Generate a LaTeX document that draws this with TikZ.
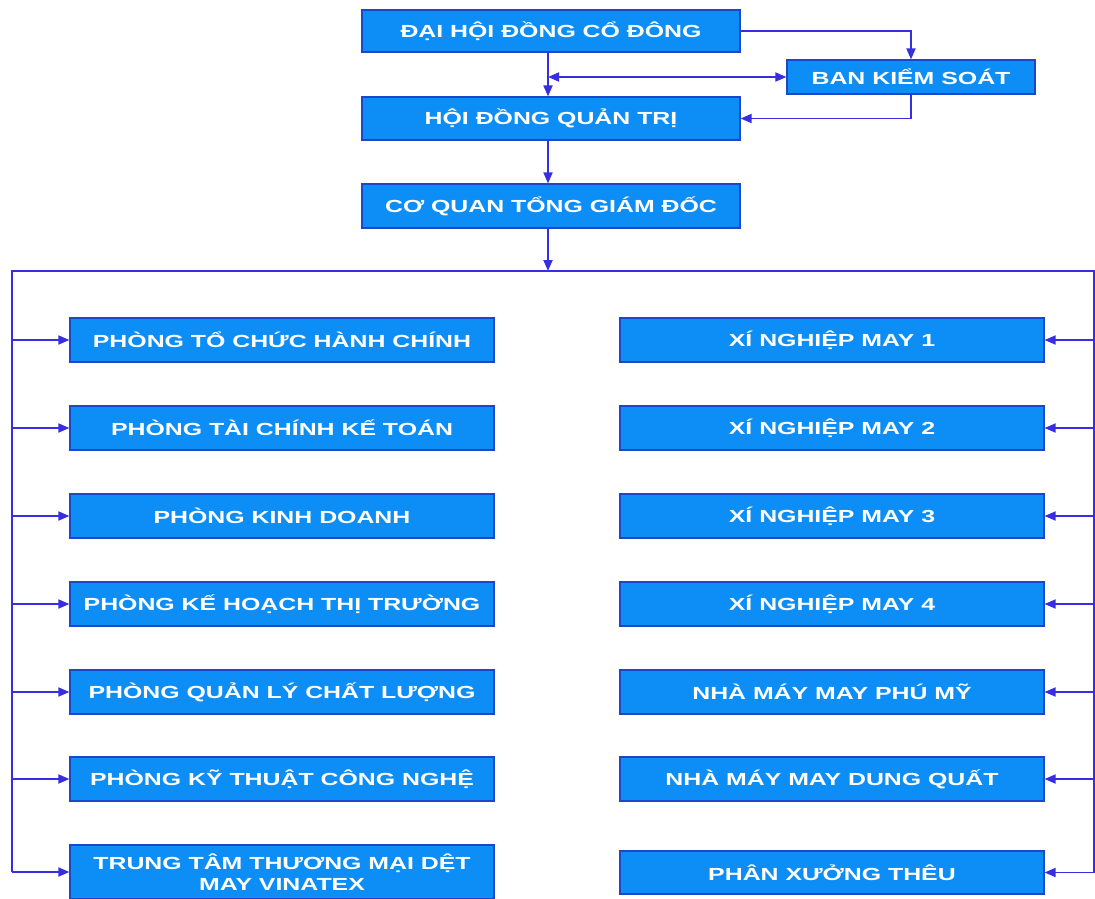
\documentclass[tikz,border=0pt]{standalone}
\usepackage{fontspec}
\setmainfont{Liberation Sans}
\newfontfamily\boxfont[FakeStretch=1.42]{Liberation Sans}
\usetikzlibrary{arrows.meta}
\definecolor{boxfill}{RGB}{12,142,246}
\definecolor{boxdraw}{RGB}{30,70,200}
\definecolor{linec}{RGB}{55,45,225}
\tikzset{
  box/.style={draw=boxdraw, line width=1.2pt, fill=boxfill, text=white,
    font=\boxfont\fontsize{17.5}{21}\selectfont\bfseries, align=center,
    inner sep=0pt, minimum width=424pt, minimum height=44pt},
  conn/.style={draw=linec, line width=1.8pt},
  arr/.style={conn, -{Triangle[length=11pt,width=9pt]}},
  darr/.style={conn, {Triangle[length=11pt,width=9pt]}-{Triangle[length=11pt,width=9pt]}}
}
\begin{document}
\begin{tikzpicture}[x=1pt,y=-1pt]
\useasboundingbox[fill=white] (0,0) rectangle (1095,898);
% top
\node[box, minimum width=378pt, minimum height=42pt] (dh) at (551,31) {ĐẠI HỘI ĐỒNG CỔ ĐÔNG};
\node[box, minimum width=248pt, minimum height=34pt] (bks) at (911,77) {BAN KIỂM SOÁT};
\node[box, minimum width=378pt, minimum height=43pt] (hdqt) at (551,118.5) {HỘI ĐỒNG QUẢN TRỊ};
\node[box, minimum width=378pt, minimum height=44pt] (cq) at (551,206) {CƠ QUAN TỔNG GIÁM ĐỐC};
% left column
\node[box] (L1) at (282,340) {PHÒNG TỔ CHỨC HÀNH CHÍNH};
\node[box] (L2) at (282,428) {PHÒNG TÀI CHÍNH KẾ TOÁN};
\node[box] (L3) at (282,516) {PHÒNG KINH DOANH};
\node[box] (L4) at (282,604) {PHÒNG KẾ HOẠCH THỊ TRƯỜNG};
\node[box] (L5) at (282,692) {PHÒNG QUẢN LÝ CHẤT LƯỢNG};
\node[box] (L6) at (282,779) {PHÒNG KỸ THUẬT CÔNG NGHỆ};
\node[box, minimum height=54pt] (L7) at (282,872) {TRUNG TÂM THƯƠNG MẠI DỆT\\MAY VINATEX};
% right column
\node[box] (R1) at (832,340) {XÍ NGHIỆP MAY 1};
\node[box] (R2) at (832,428) {XÍ NGHIỆP MAY 2};
\node[box] (R3) at (832,516) {XÍ NGHIỆP MAY 3};
\node[box] (R4) at (832,604) {XÍ NGHIỆP MAY 4};
\node[box] (R5) at (832,692) {NHÀ MÁY MAY PHÚ MỸ};
\node[box] (R6) at (832,779) {NHÀ MÁY MAY DUNG QUẤT};
\node[box, minimum height=43pt] (R7) at (832,872.5) {PHÂN XƯỞNG THÊU};
% coordinates
\coordinate (vx) at (548,0);
\coordinate (busL) at (12,271);
\coordinate (busR) at (1094,271);
\coordinate (busLb) at (12,872);
\coordinate (busRb) at (1094,872.5);
% top connectors
\draw[arr] (dh.south -| vx) -- (hdqt.north -| vx);
\draw[arr] (dh.east) -| (bks.north);
\draw[arr] (bks.south) |- (hdqt.east);
\draw[darr] (bks.west -| vx) -- (bks.west);
\draw[arr] (hdqt.south -| vx) -- (cq.north -| vx);
\draw[arr] (cq.south -| vx) -- (busL -| vx);
% bus
\draw[conn] (busLb) -- (busL) -- (busR) -- (busRb);
\foreach \n in {L1,L2,L3,L4,L5,L6,L7}{
  \draw[arr] (\n.west -| busL) -- (\n.west);
}
\foreach \n in {R1,R2,R3,R4,R5,R6,R7}{
  \draw[arr] (\n.east -| busR) -- (\n.east);
}
\end{tikzpicture}
\end{document}
